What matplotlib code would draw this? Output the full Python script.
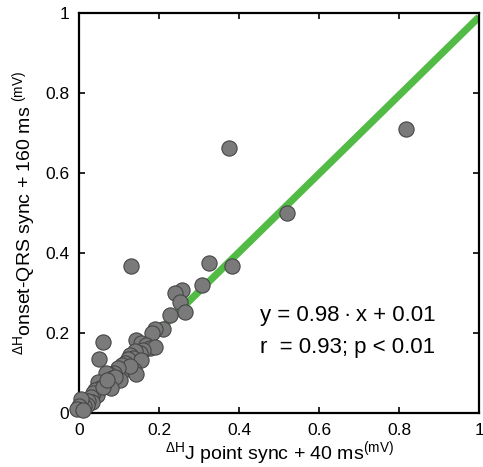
import matplotlib
matplotlib.use("Agg")
import matplotlib.pyplot as plt
import numpy as np

plt.rcParams['font.family'] = ['Liberation Sans', 'DejaVu Sans']
plt.rcParams['mathtext.fontset'] = 'custom'
plt.rcParams['mathtext.rm'] = 'Liberation Sans'
plt.rcParams['mathtext.it'] = 'Liberation Sans:italic'

# Data
x_jpoint = [0.818, 0.375, 0.521, 0.131, 0.325, 0.383, 0.308, 0.258, 0.239, 0.252,
            0.264, 0.227, 0.211, 0.190, 0.183, 0.059, 0.051,
            0.142, 0.154, 0.168, 0.178, 0.190, 0.160, 0.153, 0.140, 0.128, 0.135,
            0.122, 0.155, 0.115, 0.108, 0.120, 0.138, 0.142, 0.128, 0.098, 0.087,
            0.075, 0.068, 0.083, 0.102, 0.090, 0.080, 0.063, 0.055, 0.047, 0.052,
            0.040, 0.045, 0.035, 0.030, 0.032, 0.022, 0.020, 0.012, 0.005, 0.000,
            -0.005, 0.010, 0.060, 0.070]
y_onset = [0.710, 0.662, 0.500, 0.367, 0.375, 0.368, 0.319, 0.308, 0.300, 0.278,
           0.252, 0.246, 0.210, 0.210, 0.200, 0.178, 0.136,
           0.183, 0.175, 0.170, 0.162, 0.165, 0.158, 0.150, 0.155, 0.145, 0.138,
           0.135, 0.133, 0.125, 0.120, 0.110, 0.108, 0.097, 0.117, 0.112, 0.100,
           0.098, 0.100, 0.088, 0.083, 0.090, 0.062, 0.075, 0.070, 0.077, 0.062,
           0.058, 0.045, 0.050, 0.040, 0.028, 0.030, 0.020, 0.018, 0.035, 0.018,
           0.010, 0.008, 0.065, 0.082]

fit_slope = 0.98
fit_intercept = 0.01
ticks = [0, 0.2, 0.4, 0.6, 0.8, 1]
tick_labels = ['0', '0.2', '0.4', '0.6', '0.8', '1']

fig = plt.figure(figsize=(4.83, 4.67), dpi=100)
ax = fig.add_axes([79/483, 54/467, 400/483, 400/467])

xl = np.array([0, 1])
ax.plot(xl, fit_slope * xl + fit_intercept, color='#52bb45', lw=5.2, solid_capstyle='butt', zorder=2)
ax.scatter(x_jpoint, y_onset, s=120, c='#7a7a7a', edgecolors='#464646', linewidths=0.8,
           zorder=3, clip_on=False)

ax.set_xlim(0, 1)
ax.set_ylim(0, 1)
ax.set_xticks(ticks)
ax.set_xticklabels(tick_labels)
ax.set_yticks(ticks)
ax.set_yticklabels(tick_labels)
ax.tick_params(direction='in', length=4, width=1.2, top=True, right=True,
               labelsize=12.5, pad=7)
for s in ax.spines.values():
    s.set_linewidth(1.6)

ax.set_xlabel(r'$^{\Delta\mathrm{H}}$J point sync + 40 ms$^{(\mathrm{mV})}$', fontsize=14, labelpad=1)
ax.set_ylabel(r'$^{\Delta\mathrm{H}}$onset-QRS sync + 160 ms $^{(\mathrm{mV})}$', fontsize=14, labelpad=5)

ax.text(0.4525, 0.245, 'y = 0.98\u2009\u00b7\u2009x + 0.01', fontsize=16, va='center', ha='left')
ax.text(0.4525, 0.1625, 'r  = 0.93; p < 0.01', fontsize=16, va='center', ha='left')

fig.savefig('out.png', dpi=100)
